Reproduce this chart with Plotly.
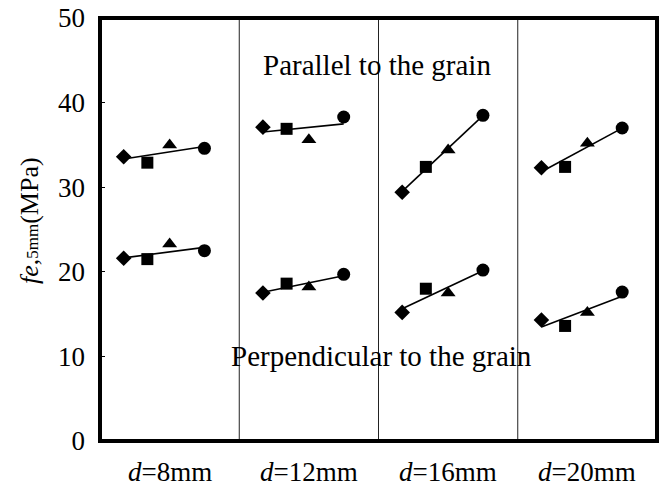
import numpy as np
import plotly.graph_objects as go

# Bolt diameter groups (one panel each)
groups = ["<i>d</i>=8mm", "<i>d</i>=12mm", "<i>d</i>=16mm", "<i>d</i>=20mm"]

# Position of each specimen series inside its panel (fraction of panel width)
series_offsets = [0.17, 0.34, 0.50, 0.75]
series_symbols = ["diamond", "square", "triangle-up", "circle"]
series_sizes = [12, 12, 13, 13]

# Embedding strength fe,5mm (MPa), parallel to the grain
par_diamond = [33.6, 37.1, 29.4, 32.3]
par_square = [32.9, 36.9, 32.4, 32.4]
par_triangle = [35.0, 35.6, 34.4, 35.2]
par_circle = [34.6, 38.3, 38.5, 37.0]

# Embedding strength fe,5mm (MPa), perpendicular to the grain
perp_diamond = [21.6, 17.5, 15.2, 14.3]
perp_square = [21.5, 18.6, 18.0, 13.6]
perp_triangle = [23.3, 18.2, 17.5, 15.2]
perp_circle = [22.5, 19.7, 20.2, 17.6]

y_ticks = [0, 10, 20, 30, 40, 50]

SERIF = "Liberation Serif"
FS = 27

fig = go.Figure()

directions = [
    [par_diamond, par_square, par_triangle, par_circle],
    [perp_diamond, perp_square, perp_triangle, perp_circle],
]

for series in directions:
    for g in range(len(groups)):
        xs = np.array([g + o for o in series_offsets])
        ys = np.array([s[g] for s in series])
        # linear trend line across the four specimens of this group
        k, b = np.polyfit(xs, ys, 1)
        xl = np.array([xs.min(), xs.max()])
        fig.add_trace(go.Scatter(
            x=xl, y=k * xl + b, mode="lines",
            line=dict(color="black", width=1.6),
            hoverinfo="skip", showlegend=False,
        ))
    for si, sym in enumerate(series_symbols):
        xs = [g + series_offsets[si] for g in range(len(groups))]
        fig.add_trace(go.Scatter(
            x=xs, y=series[si], mode="markers",
            marker=dict(symbol=sym, size=series_sizes[si], color="black",
                        line=dict(width=0)),
            showlegend=False,
        ))

# panel dividers
for g in range(1, len(groups)):
    fig.add_shape(type="line", x0=g, x1=g, y0=0, y1=1,
                  xref="x", yref="paper",
                  line=dict(color="#222", width=1))

# heavy frame round the plot area
fig.add_shape(type="rect", x0=0, x1=1, y0=0, y1=1,
              xref="paper", yref="paper",
              line=dict(color="black", width=4))

# group labels below the plot
for g, name in enumerate(groups):
    fig.add_annotation(x=g + 0.5, y=0, xref="x", yref="paper",
                       text=name, showarrow=False, yshift=-31,
                       yanchor="middle",
                       font=dict(family=SERIF, size=FS, color="black"))

fig.add_annotation(x=1.99, y=44.4, xref="x", yref="y",
                   text="Parallel to the grain", showarrow=False,
                   font=dict(family=SERIF, size=29, color="black"))
fig.add_annotation(x=2.02, y=10.0, xref="x", yref="y",
                   text="Perpendicular to the grain", showarrow=False,
                   font=dict(family=SERIF, size=29, color="black"))

fig.add_annotation(x=0, y=0.52, xref="paper", yref="paper",
                   xanchor="center", yanchor="middle",
                   xshift=-71, textangle=-90, showarrow=False,
                   text="<i>fe</i>,<span style='font-size:17px'>5mm</span>(MPa)",
                   font=dict(family=SERIF, size=26, color="black"))

fig.update_layout(
    width=661, height=491,
    margin=dict(l=100, r=4, t=18, b=50),
    paper_bgcolor="white", plot_bgcolor="white",
    xaxis=dict(range=[0, 4], showgrid=False, zeroline=False,
               showticklabels=False, ticks=""),
    yaxis=dict(range=[0, 50], tickvals=y_ticks, showgrid=False,
               zeroline=False, ticks="inside", ticklen=5,
               tickcolor="black", ticklabelstandoff=14,
               tickfont=dict(family=SERIF, size=FS, color="black")),
)

fig.write_html("out.html")
